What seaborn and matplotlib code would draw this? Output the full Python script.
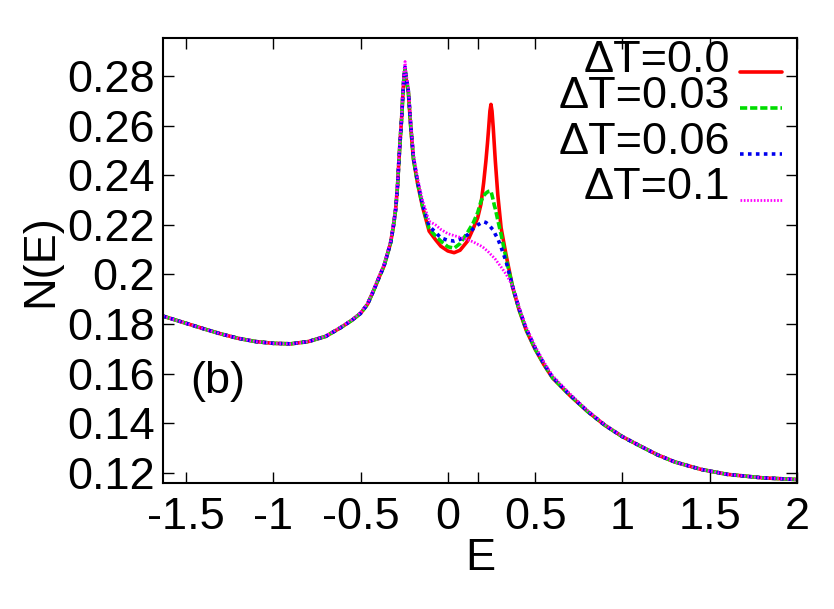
import numpy as np
import pandas as pd
import matplotlib
matplotlib.use("Agg")
import matplotlib.pyplot as plt
import seaborn as sns

sns.set_style("ticks")
plt.rcParams['font.family'] = ['Liberation Sans', 'DejaVu Sans']
plt.rcParams['axes.unicode_minus'] = False
plt.rcParams['text.color'] = 'black'
plt.rcParams['axes.labelcolor'] = 'black'
plt.rcParams['xtick.color'] = 'black'
plt.rcParams['ytick.color'] = 'black'

# ---------------- data ----------------
E = [-1.632, -1.5, -1.4, -1.3, -1.2, -1.1, -1.0, -0.9, -0.8, -0.7, -0.615, -0.55,
     -0.5, -0.46, -0.423, -0.39, -0.366, -0.345, -0.328, -0.312, -0.299, -0.288,
     -0.280, -0.272, -0.264, -0.257, -0.251, -0.245, -0.239, -0.232, -0.226,
     -0.213, -0.197, -0.174, -0.146, -0.107, -0.07, -0.04, 0.0, 0.036, 0.07,
     0.113, 0.145, 0.171, 0.19, 0.205, 0.218, 0.227, 0.234, 0.241, 0.247, 0.253,
     0.260, 0.266, 0.272, 0.286, 0.305, 0.333, 0.372, 0.41, 0.45, 0.5, 0.55, 0.6,
     0.7, 0.8, 0.9, 1.0, 1.1, 1.2, 1.3, 1.45, 1.6, 1.8, 2.0]

N_00 = [0.1832, 0.1803, 0.1781, 0.1760, 0.1742, 0.1729, 0.1722, 0.1720, 0.1729,
        0.1750, 0.1785, 0.1815, 0.1843, 0.1880, 0.1939, 0.1995, 0.2034, 0.2085,
        0.2128, 0.2195, 0.2263, 0.2360, 0.2465, 0.2555, 0.2640, 0.2735, 0.2800,
        0.2828, 0.2790, 0.2762, 0.2734, 0.2599, 0.2465, 0.2370, 0.2276, 0.2175,
        0.2140, 0.2114, 0.2095, 0.2088, 0.2098, 0.2135, 0.2185, 0.2229, 0.2285,
        0.2370, 0.2458, 0.2530, 0.2593, 0.2660, 0.2687, 0.2660, 0.2593, 0.2525,
        0.2458, 0.2323, 0.2189, 0.2081, 0.1946, 0.1853, 0.1773, 0.1698, 0.1636,
        0.1582, 0.1511, 0.1447, 0.1391, 0.1345, 0.1308, 0.1272, 0.1243, 0.1213,
        0.1193, 0.1179, 0.1172]

N_03 = [0.1832, 0.1803, 0.1781, 0.1760, 0.1742, 0.1729, 0.1722, 0.1720, 0.1729,
        0.1750, 0.1785, 0.1815, 0.1843, 0.1880, 0.1939, 0.1995, 0.2034, 0.2085,
        0.2128, 0.2195, 0.2263, 0.2360, 0.2465, 0.2555, 0.2640, 0.2735, 0.2802,
        0.2832, 0.2793, 0.2765, 0.2737, 0.2603, 0.2468, 0.2372, 0.2280, 0.2185,
        0.2155, 0.2135, 0.2112, 0.2106, 0.2125, 0.2170, 0.2208, 0.2250, 0.2296,
        0.2318, 0.2328, 0.2333, 0.2336, 0.2337, 0.2336, 0.2320, 0.2300, 0.2280,
        0.2265, 0.2220, 0.2162, 0.2067, 0.1946, 0.1855, 0.1776, 0.1700, 0.1638,
        0.1583, 0.1512, 0.1447, 0.1391, 0.1345, 0.1308, 0.1272, 0.1243, 0.1213,
        0.1193, 0.1179, 0.1172]

N_06 = [0.1832, 0.1803, 0.1781, 0.1760, 0.1742, 0.1729, 0.1722, 0.1720, 0.1729,
        0.1750, 0.1785, 0.1815, 0.1843, 0.1880, 0.1939, 0.1995, 0.2034, 0.2085,
        0.2128, 0.2195, 0.2263, 0.2360, 0.2465, 0.2555, 0.2640, 0.2737, 0.2805,
        0.2838, 0.2797, 0.2769, 0.2740, 0.2607, 0.2472, 0.2378, 0.2285, 0.2195,
        0.2170, 0.2148, 0.2138, 0.2135, 0.2142, 0.2160, 0.2185, 0.2200, 0.2208,
        0.2213, 0.2210, 0.2205, 0.2200, 0.2195, 0.2190, 0.2185, 0.2180, 0.2172,
        0.2162, 0.2145, 0.2110, 0.2054, 0.1950, 0.1858, 0.1779, 0.1703, 0.1640,
        0.1585, 0.1513, 0.1448, 0.1391, 0.1345, 0.1308, 0.1272, 0.1243, 0.1213,
        0.1193, 0.1179, 0.1172]

N_10 = [0.1832, 0.1803, 0.1781, 0.1760, 0.1742, 0.1729, 0.1722, 0.1720, 0.1729,
        0.1751, 0.1787, 0.1817, 0.1846, 0.1884, 0.1944, 0.2001, 0.2040, 0.2092,
        0.2135, 0.2203, 0.2272, 0.2370, 0.2476, 0.2566, 0.2652, 0.2750, 0.2822,
        0.2860, 0.2810, 0.2782, 0.2752, 0.2620, 0.2485, 0.2392, 0.2302, 0.2215,
        0.2200, 0.2182, 0.2165, 0.2157, 0.2150, 0.2140, 0.2132, 0.2122, 0.2115,
        0.2108, 0.2100, 0.2095, 0.2090, 0.2085, 0.2080, 0.2076, 0.2071, 0.2067,
        0.2062, 0.2048, 0.2030, 0.2002, 0.1952, 0.1864, 0.1787, 0.1711, 0.1647,
        0.1591, 0.1518, 0.1451, 0.1393, 0.1346, 0.1309, 0.1273, 0.1243, 0.1213,
        0.1193, 0.1179, 0.1172]

labels = ["\u0394T=0.0", "\u0394T=0.03", "\u0394T=0.06", "\u0394T=0.1"]
series = [N_00, N_03, N_06, N_10]
colors = ["#ff0000", "#00dd00", "#0000ee", "#ff00ff"]

xticks = [-1.5, -1, -0.5, 0, 0.5, 1, 1.5, 2]
xticklabels = ["-1.5", "-1", "-0.5", "0", "0.5", "1", "1.5", "2"]
yticks = [0.12, 0.14, 0.16, 0.18, 0.2, 0.22, 0.24, 0.26, 0.28]
yticklabels = ["0.12", "0.14", "0.16", "0.18", "0.2", "0.22", "0.24", "0.26", "0.28"]

# ---------------- figure ----------------
fig = plt.figure(figsize=(8.34, 6.09), dpi=100)
ax = fig.add_axes([0.1954, 0.2069, 0.9556 - 0.1954, 0.9376 - 0.2069])

styles = [dict(linestyle="-", linewidth=2.6),
          dict(linestyle=(0, (2.0, 0.8)), linewidth=2.6),
          dict(linestyle=(0, (1.0, 1.2)), linewidth=2.6),
          dict(linestyle=(0, (0.6, 0.6)), linewidth=2.0)]

for lab, vals, col, st in zip(labels, series, colors, styles):
    df = pd.DataFrame({"E": E, "N": vals})
    sns.lineplot(data=df, x="E", y="N", color=col, ax=ax, sort=False,
                 estimator=None, legend=False, **st)

ax.set_xlim(-1.632, 2.0)
ax.set_ylim(0.1158, 0.2955)
ax.set_xticks(xticks)
ax.set_xticklabels(xticklabels)
ax.set_xticks([0.17], minor=True)
ax.set_yticks(yticks)
ax.set_yticklabels(yticklabels)

fs = 32.5
ax.tick_params(axis="both", which="both", direction="in", top=True, right=True,
               length=8, width=1.0, labelsize=fs)
ax.tick_params(axis="x", pad=10)
ax.tick_params(axis="y", pad=6)
for sp in ax.spines.values():
    sp.set_linewidth(1.5)
    sp.set_color("black")

ax.set_xlabel("E", fontsize=fs, labelpad=0)
ax.set_ylabel("N(E)", fontsize=fs, labelpad=4)

ax.text(-1.32, 0.1568, "(b)", fontsize=fs, ha="center", va="center")

# legend in gnuplot style: right-aligned text, sample to the right
ax_l, ax_r, ax_t, ax_b = 163, 797, 38, 483
def ax_x(px):
    return (px - ax_l) / (ax_r - ax_l)
def ax_y(py):
    return (ax_b - py) / (ax_b - ax_t)

rows_text = [60, 96, 142, 187]
rows_line = [72, 108, 154, 200]
for lab, col, st, ty, ly in zip(labels, colors, styles, rows_text, rows_line):
    ax.text(ax_x(730), ax_y(ty), lab, fontsize=fs, ha="right", va="center",
            transform=ax.transAxes)
    ax.plot([ax_x(740), ax_x(782)], [ax_y(ly), ax_y(ly)], color=col,
            transform=ax.transAxes, **st)

fig.savefig("out.png", dpi=100)
